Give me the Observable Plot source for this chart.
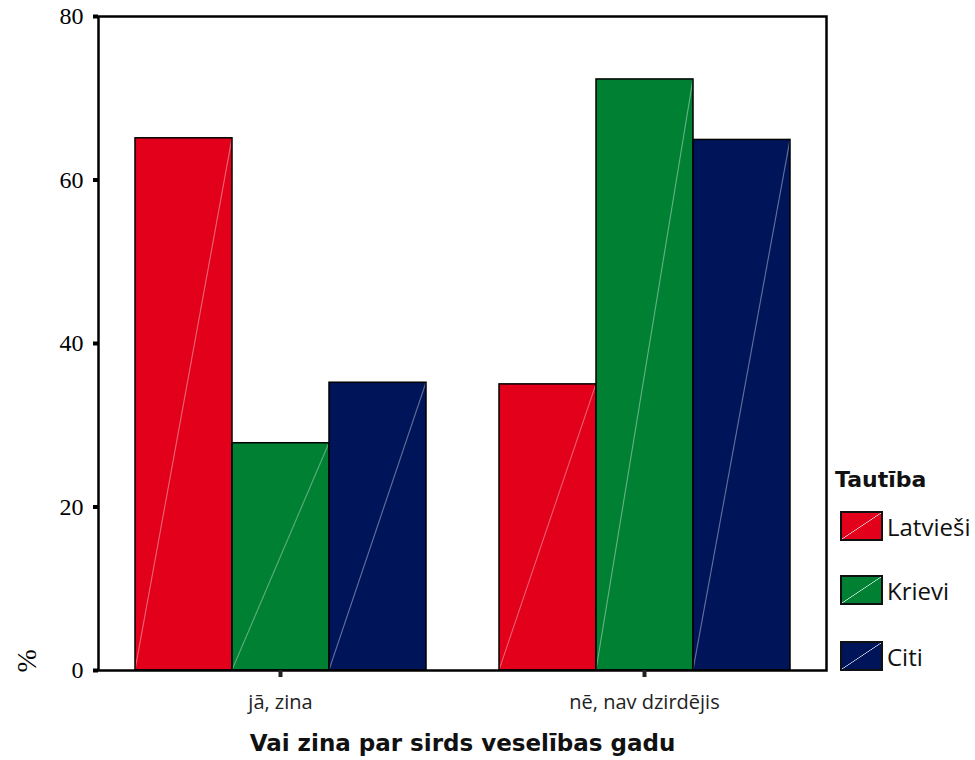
<!DOCTYPE html>
<html>
<head>
<meta charset="utf-8">
<script src="https://cdn.jsdelivr.net/npm/d3@7"></script>
<script src="https://cdn.jsdelivr.net/npm/@observablehq/plot@0.6"></script>
<style>
  body { margin: 0; background: white; }
  #wrap { position: relative; width: 975px; height: 760px; }
  #legend { position: absolute; left: 0; top: 0; width: 975px; height: 760px; pointer-events: none; color: #111; }
  #legend .title { position: absolute; left: 835px; top: 465px; font-family: "DejaVu Sans", sans-serif; font-weight: bold; font-size: 22px; line-height: 30px; }
  #legend .item { position: absolute; left: 840px; display: flex; align-items: center; height: 30px; font-family: "Open Sans", "Noto Sans", sans-serif; font-size: 24px; }
  #legend .sw { width: 43px; height: 30px; border: 2px solid #111; margin-right: 4px; box-sizing: border-box; }
</style>
</head>
<body>
<svg width="0" height="0" style="position:absolute">
  <defs id="defs"></defs>
</svg>
<div id="wrap"><div id="chart"></div><div id="legend"></div></div>
<script>
const categories = ["jā, zina", "nē, nav dzirdējis"];
const groups = ["Latvieši", "Krievi", "Citi"];
const latviesi = [65.1, 35.0];
const krievi = [27.8, 72.3];
const citi = [35.2, 64.9];
const colors = ["#e2001a", "#008033", "#00145a"];
const yTicks = [0, 20, 40, 60, 80];
const xTitle = "Vai zina par sirds veselības gadu";
const yTitle = "%";
const legendTitle = "Tautība";

const series = [latviesi, krievi, citi];
const data = [];
categories.forEach((c, i) => groups.forEach((g, j) => data.push({cat: c, group: g, value: series[j][i]})));

// diagonal-highlight patterns
const defs = d3.select("#defs");
colors.forEach((col, i) => {
  const p = defs.append("pattern").attr("id", "pat" + i)
    .attr("patternUnits", "objectBoundingBox").attr("patternContentUnits", "objectBoundingBox")
    .attr("width", 1).attr("height", 1);
  p.append("rect").attr("width", 1).attr("height", 1).attr("fill", col);
  p.append("line").attr("x1", 0).attr("y1", 1).attr("x2", 1).attr("y2", 0)
    .attr("stroke", "rgba(255,255,255,0.4)").attr("stroke-width", 0.008);
});

const plot = Plot.plot({
  width: 975,
  height: 760,
  marginTop: 16,
  marginBottom: 90,
  marginLeft: 97,
  marginRight: 149,
  style: {fontFamily: "'Open Sans', 'Noto Sans', sans-serif", background: "white"},
  fx: {domain: categories, padding: 0, label: null},
  x: {domain: groups, paddingInner: 0, paddingOuter: 0.375, axis: null},
  y: {domain: [0, 80]},
  color: {domain: groups, range: colors.map((c, i) => `url(#pat${i})`)},
  marks: [
    Plot.barY(data, {fx: "cat", x: "group", y: "value", fill: "group", stroke: "#000", strokeWidth: 1.5}),
    Plot.frame({facet: "super", stroke: "#000", strokeWidth: 2.5}),
    Plot.axisY({ticks: yTicks, tickSize: 5, strokeWidth: 4, tickPadding: 10, fontSize: 24,
      fontFamily: "'Liberation Serif', serif", label: null, color: "#000"}),
    Plot.axisFx({anchor: "bottom", tickSize: 7, strokeWidth: 4, tickPadding: 17, fontSize: 20, label: null, color: "#222"}),
    Plot.text([xTitle], {facet: "super", frameAnchor: "bottom", dy: 80, fontSize: 23, fontWeight: "bold",
      fontFamily: "'DejaVu Sans', sans-serif", fill: "#111"}),
    Plot.text([yTitle], {facet: "super", frameAnchor: "bottom-left", dx: -63, dy: 2, rotate: -90, fontSize: 28,
      fontFamily: "'Liberation Serif', serif", fill: "#000"})
  ]
});
document.getElementById("chart").appendChild(plot);

const legend = d3.select("#legend");
legend.append("div").attr("class", "title").text(legendTitle);
const itemTops = [511, 575, 641];
groups.forEach((g, i) => {
  const it = legend.append("div").attr("class", "item").style("top", itemTops[i] + "px");
  it.append("div").attr("class", "sw")
    .style("background", `linear-gradient(to bottom right, ${colors[i]} calc(50% - 0.6px), rgba(255,255,255,0.45) 50%, ${colors[i]} calc(50% + 0.6px))`);
  it.append("span").text(g);
});
</script>
</body>
</html>
